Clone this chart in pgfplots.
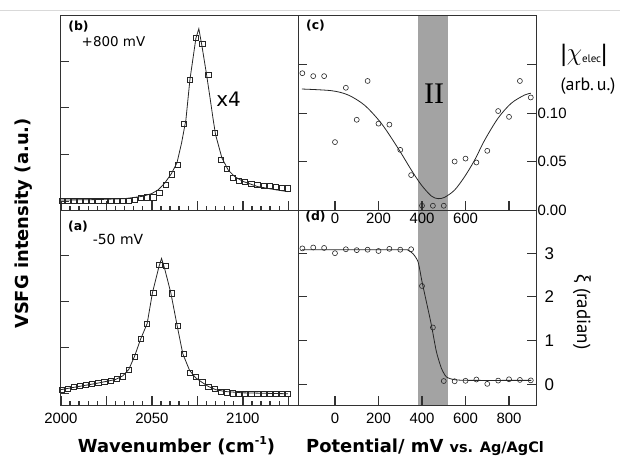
\documentclass[border=0pt]{standalone}
\usepackage{pgfplots}
\pgfplotsset{compat=1.18}
\usepackage{fontspec}
\setmainfont{Liberation Sans}
\newfontfamily\dejavu{DejaVu Sans}
\newfontfamily\ptsans{PT Sans}
\newfontfamily\lserif{Liberation Serif}

\definecolor{bandgray}{RGB}{163,163,163}
\definecolor{framegray}{RGB}{50,50,50}
\newcommand{\fs}[1]{\fontsize{#1}{#1}\selectfont}

\tikzset{potlabel/.style={anchor=north, inner sep=0pt, font=\fs{15}, yshift=-2.5bp}}

\pgfplotsset{
  panel/.style={
    scale only axis, anchor=south west, axis on top,
    axis line style={framegray, line width=0.9pt},
    tick align=inside,
    major tick length=9bp, minor tick length=4.5bp,
    /pgf/number format/assume math mode=true,
    ticklabel style={font=\fs{15}},
    scaled ticks=false,
    xtick style={framegray, line width=1.4pt},
    ytick style={framegray, line width=0.9pt},
  },
  fitline/.style={black!85, line width=0.8pt, no marks},
  sqmarks/.style={only marks, mark=square, mark size=2.6bp,
    mark options={black!85, line width=0.6pt}},
  cimarks/.style={only marks, mark=o, mark size=2.5bp,
    mark options={black!85, line width=0.6pt}},
}

\begin{document}
\begin{tikzpicture}
\path[use as bounding box] (0bp,0bp) rectangle (620bp,456bp);
\draw[gray!30, line width=0.8pt] (0bp,446bp) -- (620bp,446bp);

% (b) spectrum at +800 mV
\begin{axis}[panel, at={(60bp,245.5bp)}, width=238bp, height=195.5bp,
  xmin=1999.5, xmax=2130.3, ymin=-0.204, ymax=3.985,
  xtick={2000,2025,2050,2075,2100,2125},
  minor xtick={2005,2010,2015,2020,2030,2035,2040,2045,2055,2060,2065,2070,2080,2085,2090,2095,2105,2110,2115,2120},
  xticklabels={}, xtick pos=bottom,
  ytick={0,1,2,3}, yticklabels={}, ytick pos=left]
\addplot[fitline] coordinates {
(2000,0.02) (2020,0.03) (2035,0.05) (2045,0.10) (2050,0.16) (2053.5,0.24)
(2057,0.38) (2060.8,0.59) (2063.8,0.82) (2066.3,1.24) (2068.7,1.74)
(2070.9,2.60) (2074.2,3.49) (2075.8,3.69) (2077.6,3.30) (2080,2.72)
(2082,2.20) (2083.7,1.74) (2085,1.42) (2088.5,0.92) (2092,0.66)
(2095.6,0.52) (2100,0.42) (2108,0.31) (2118,0.24) (2124.8,0.20)};
\addplot[sqmarks] coordinates {
(2000.3,0.01) (2003.7,0.01) (2007.0,0.01) (2010.4,0.01) (2013.8,0.01)
(2017.1,0.01) (2020.5,0.01) (2023.8,0.01) (2027.2,0.01) (2030.6,0.01)
(2033.9,0.01) (2037.3,0.01) (2040.7,0.03) (2044.0,0.06) (2047.4,0.08)
(2050.8,0.08) (2054.1,0.17) (2057.5,0.34) (2060.9,0.57) (2064.2,0.77)
(2067.6,1.66) (2070.9,2.60) (2074.3,3.49) (2077.7,3.36) (2081.0,2.71)
(2084.4,1.46) (2087.8,0.88) (2091.1,0.69) (2094.5,0.49) (2097.9,0.43)
(2101.2,0.41) (2104.6,0.37) (2107.9,0.34) (2111.3,0.33) (2114.7,0.32)
(2118.0,0.30) (2121.4,0.28) (2124.8,0.27)};
\end{axis}

% (a) spectrum at -50 mV
\begin{axis}[panel, at={(60bp,50.5bp)}, width=238bp, height=195bp,
  xmin=1999.5, xmax=2130.3, ymin=-0.266, ymax=3.985,
  xtick={2000,2025,2050,2075,2100,2125},
  minor xtick={2005,2010,2015,2020,2030,2035,2040,2045,2055,2060,2065,2070,2080,2085,2090,2095,2105,2110,2115,2120},
  xticklabels={2000,,2050,,2100,}, xticklabel shift=4bp,
  xtick pos=bottom, ytick={0,1,2,3}, yticklabels={}, ytick pos=left]
\addplot[fitline] coordinates {
(2000,0.08) (2010,0.15) (2020,0.22) (2030,0.30) (2034,0.38) (2037.3,0.52)
(2040.5,0.81) (2043.8,1.18) (2047.4,1.52) (2050.3,2.19) (2053.8,2.75)
(2055.3,2.94) (2057,2.72) (2060.4,2.19) (2063.9,1.47) (2067,0.86)
(2070.7,0.50) (2074,0.34) (2077.5,0.24) (2081,0.15) (2085,0.08)
(2090,0.04) (2100,0.01) (2124.8,-0.01)};
\addplot[sqmarks] coordinates {
(2000.3,0.07) (2003.7,0.10) (2007.0,0.14) (2010.4,0.17) (2013.8,0.18)
(2017.1,0.21) (2020.5,0.23) (2023.8,0.25) (2027.2,0.28) (2030.6,0.31)
(2033.9,0.37) (2037.3,0.51) (2040.7,0.80) (2044.0,1.18) (2047.4,1.52)
(2050.8,2.19) (2054.1,2.80) (2057.5,2.78) (2060.9,2.18) (2064.2,1.47)
(2067.6,0.86) (2070.9,0.44) (2074.3,0.36) (2077.7,0.24) (2081.0,0.15)
(2084.4,0.09) (2087.8,0.04) (2091.1,0.02) (2094.5,0.00) (2097.9,-0.01)
(2101.2,-0.015) (2104.6,-0.015) (2107.9,-0.015) (2111.3,-0.015)
(2114.7,-0.015) (2118.0,-0.015) (2121.4,-0.015) (2124.8,-0.015)};
\end{axis}

% (d) phase versus potential
\begin{axis}[panel, at={(298bp,50.5bp)}, width=238bp, height=195bp,
  xmin=-170, xmax=924, ymin=-0.485, ymax=3.977,
  xtick={0,200,400,600,800}, xticklabel shift=4bp, xtick pos=bottom,
  ytick={0,1,2,3}, ytick pos=both, yticklabel pos=right,
  yticklabel style={anchor=west, font=\fs{17}}, yticklabel shift=5bp]
\addplot[fill=bandgray, draw=none] coordinates
  {(380,-0.485) (520,-0.485) (520,3.977) (380,3.977)} -- cycle;
\addplot[fitline, smooth, tension=0.4] coordinates {
(-152,3.08) (300,3.08) (335,3.07) (360,2.98) (382,2.80) (400,2.35)
(420,1.89) (443,1.36) (466,0.75) (489,0.37) (512,0.17) (550,0.105)
(620,0.09) (903,0.09)};
\addplot[cimarks] coordinates {
(-150,3.11) (-100,3.13) (-50,3.12) (0,3.00) (50,3.09) (100,3.07)
(150,3.08) (200,3.05) (250,3.10) (300,3.08) (350,3.09) (400,2.25)
(450,1.30) (500,0.075) (550,0.07) (600,0.08) (650,0.11) (700,0.01)
(750,0.085) (800,0.115) (850,0.10) (900,0.09)};
\end{axis}

% (c) |chi_elec| versus potential; its potential labels sit just below the frame
\begin{axis}[panel, at={(298bp,245.5bp)}, width=238bp, height=195.5bp,
  xmin=-170, xmax=924, ymin=-0.0005, ymax=0.201, clip=false,
  xtick={0,200,400,600,800}, xticklabels={}, xtick pos=bottom,
  ytick={0,0.05,0.10,0.15}, yticklabels={0.00,0.05,0.10,},
  ytick pos=both, yticklabel pos=right,
  yticklabel style={anchor=west}, yticklabel shift=-2bp]
\addplot[fill=bandgray, draw=none] coordinates
  {(380,-0.0005) (520,-0.0005) (520,0.201) (380,0.201)} -- cycle;
\addplot[fitline, smooth, tension=0.5] coordinates {
(-152,0.1247) (-17,0.123) (60,0.1186) (136,0.108) (213,0.0893)
(290,0.0636) (351,0.0412) (397,0.0258) (443,0.0144) (474,0.0117)
(504,0.0131) (550,0.0206) (596,0.0344) (642,0.0515) (688,0.072)
(749,0.0945) (810,0.110) (872,0.1186) (900,0.1203)};
\addplot[cimarks] coordinates {
(-150,0.141) (-100,0.138) (-50,0.138) (0,0.070) (50,0.126) (100,0.093)
(150,0.133) (200,0.089) (250,0.088) (300,0.062) (350,0.036) (400,0.0044)
(450,0.0044) (500,0.0044) (550,0.050) (600,0.053) (650,0.049)
(700,0.061) (750,0.102) (800,0.096) (850,0.133) (900,0.116)};
\node[anchor=north, inner sep=0pt, font=\fs{15}, yshift=-2.5bp] at (axis cs:0,-0.0005) {0};
\node[anchor=north, inner sep=0pt, font=\fs{15}, yshift=-2.5bp] at (axis cs:200,-0.0005) {200};
\node[anchor=north, inner sep=0pt, font=\fs{15}, yshift=-2.5bp] at (axis cs:400,-0.0005) {400};
\node[anchor=north, inner sep=0pt, font=\fs{15}, yshift=-2.5bp] at (axis cs:600,-0.0005) {600};
\end{axis}

% panel letters and annotations
\node at (78.5bp,429bp) {\dejavu\bfseries\fs{12.5}(b)};
\node at (113.5bp,414bp) {\dejavu\fs{13.5}+800 mV};
\node at (228.5bp,357bp) {\dejavu\fs{20}x4};
\node at (78bp,229bp) {\dejavu\bfseries\fs{12.5}(a)};
\node at (118bp,217bp) {\dejavu\fs{14}-50 mV};
\node at (315.5bp,430bp) {\dejavu\bfseries\fs{12.5}(c)};
\node at (315.5bp,239.5bp) {\dejavu\bfseries\fs{12.5}(d)};
\node at (434bp,362.7bp) {\lserif\fs{30}II};
\node at (584bp,401bp) {\fs{24}|\raisebox{1bp}{\fs{28}$\chi$}\raisebox{-1bp}{\ptsans\fs{11}elec}|};
\node at (588bp,370bp) {\ptsans\fs{18}(arb.\,u.)};
\node[rotate=-90] at (582bp,144bp) {\fs{19}ξ\ \ptsans(radian)};

% axis titles
\node[rotate=90, anchor=base] at (28.3bp,232.5bp)
  {\dejavu\bfseries\fs{18}VSFG intensity (a.u.)};
\node[anchor=base] at (176.5bp,3.3bp)
  {\dejavu\bfseries\fs{18}Wavenumber (cm\raisebox{0.45em}{\fs{11}-1})};
\node[anchor=base west, inner sep=0pt] at (306bp,3.3bp)
  {\dejavu\bfseries\fs{18}Potential/ mV \fs{14.5}vs. Ag/AgCl};
\end{tikzpicture}
\end{document}
